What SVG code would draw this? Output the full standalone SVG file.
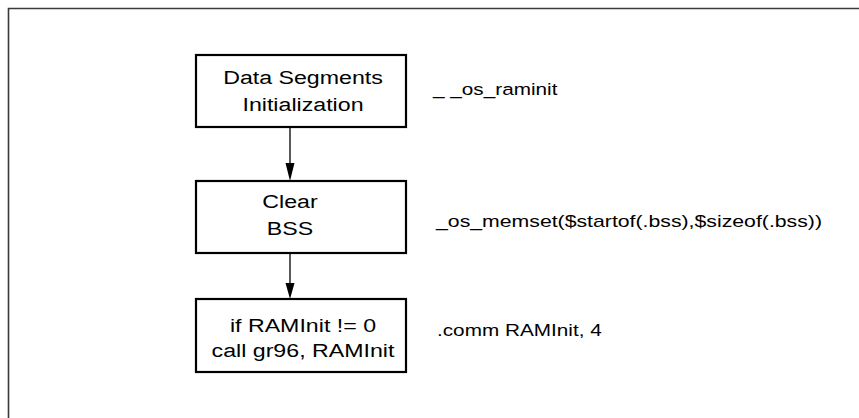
<svg xmlns="http://www.w3.org/2000/svg" width="859" height="418" viewBox="0 0 859 418">
  <defs>
    <style>
      .frame { fill: none; stroke: #3a3a3a; stroke-width: 1.6; }
      .box { fill: #ffffff; stroke: #000000; stroke-width: 2.2; }
      .wire { fill: none; stroke: #000000; stroke-width: 1.3; }
      .head { fill: #000000; }
      .txt { font-family: "Liberation Sans", Arial, sans-serif; fill: #000000; }
      .in { font-size: 19px; text-anchor: middle; }
      .lbl { font-size: 17px; }
    </style>
  </defs>
  <rect width="859" height="418" fill="#ffffff"/>

  <!-- open frame: top and left edges only -->
  <path class="frame" d="M8.5,418 V8.5 H859"/>

  <!-- connectors -->
  <g id="connectors">
    <line class="wire" x1="290" y1="128" x2="290" y2="165"/>
    <polygon class="head" points="285.5,163 294.5,163 290,181"/>
    <line class="wire" x1="290" y1="254" x2="290" y2="285"/>
    <polygon class="head" points="285.5,283 294.5,283 290,299"/>
  </g>

  <!-- step 1 -->
  <g id="data-segments-init">
    <rect class="box" x="196" y="55" width="210" height="72"/>
    <g transform="translate(303,0) scale(1.22,1)">
      <text class="txt in" x="0" y="84">Data Segments</text>
      <text class="txt in" x="0" y="111">Initialization</text>
    </g>
  </g>

  <!-- step 2 -->
  <g id="clear-bss">
    <rect class="box" x="196" y="181" width="210" height="72"/>
    <g transform="translate(290,0) scale(1.22,1)">
      <text class="txt in" x="0" y="208">Clear</text>
      <text class="txt in" x="0" y="235">BSS</text>
    </g>
  </g>

  <!-- step 3 -->
  <g id="raminit-call">
    <rect class="box" x="196" y="299" width="210" height="73"/>
    <g transform="translate(303,0) scale(1.22,1)">
      <text class="txt in" x="0" y="332">if RAMInit != 0</text>
      <text class="txt in" x="0" y="357">call gr96, RAMInit</text>
    </g>
  </g>

  <!-- side annotations -->
  <g id="note-raminit" transform="translate(433,0) scale(1.22,1)">
    <text class="txt lbl" x="0" y="95">_ _os_raminit</text>
  </g>
  <g id="note-memset" transform="translate(436,0) scale(1.25,1)">
    <text class="txt lbl" x="0" y="227">_os_memset($startof(.bss),$sizeof(.bss))</text>
  </g>
  <g id="note-comm" transform="translate(437,0) scale(1.22,1)">
    <text class="txt lbl" x="0" y="336">.comm RAMInit, 4</text>
  </g>
</svg>
